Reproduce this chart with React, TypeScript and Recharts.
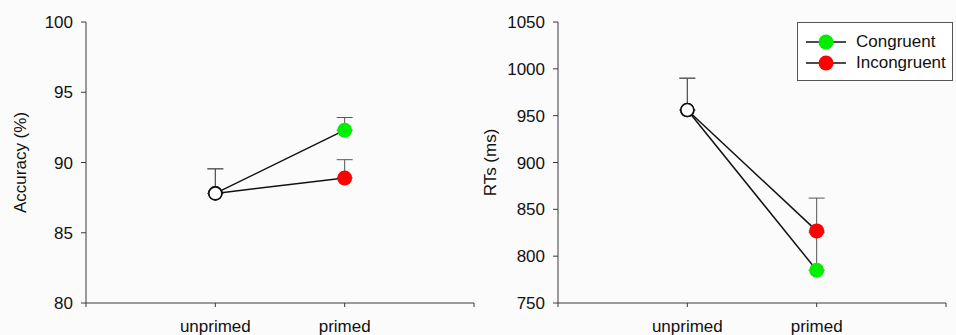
import React from 'react';
import { LineChart, Line, XAxis, YAxis, ErrorBar, Legend } from 'recharts';

// conditions on the x axis (placed at x = 1, 2 on a 0..3 axis)
const conditions = ['unprimed', 'primed'];
const seriesNames = ['Congruent', 'Incongruent'];
const seriesColors = ['#00ee00', '#ff0000'];

// accuracy (%)
const accCongruent = [87.8, 92.3];
const accIncongruent = [87.8, 88.9];
const accCongruentErr = [1.75, 0.9];
const accIncongruentErr = [1.75, 1.3];
const accTicks = [80, 85, 90, 95, 100];

// reaction times (ms)
const rtCongruent = [956, 785];
const rtIncongruent = [956, 827];
const rtCongruentErr = [34, 40];
const rtIncongruentErr = [34, 35];
const rtTicks = [750, 800, 850, 900, 950, 1000, 1050];

const FONT = '"Liberation Sans", Arial, sans-serif';
const AXIS = '#3a3a3a';

const buildRows = (cong: number[], incong: number[], congErr: number[], incongErr: number[]) =>
  conditions.map((c, i) => ({
    x: i + 1,
    name: c,
    cong: cong[i],
    incong: incong[i],
    congErr: [0, congErr[i]],
    incongErr: [0, incongErr[i]],
  }));

const accData = buildRows(accCongruent, accIncongruent, accCongruentErr, accIncongruentErr);
const rtData = buildRows(rtCongruent, rtIncongruent, rtCongruentErr, rtIncongruentErr);

const makeDot = (color: string) => (props: any) => {
  const { cx, cy, index } = props;
  if (cx == null || cy == null) return <g key={`d-${index}`} />;
  if (index === 0) {
    return <circle key={`d-${index}`} cx={cx} cy={cy} r={6.5} fill="#ffffff" stroke="#111" strokeWidth={1.6} />;
  }
  return <circle key={`d-${index}`} cx={cx} cy={cy} r={7.5} fill={color} stroke="none" />;
};

const xTickFormat = (v: number) => (v >= 1 && v <= conditions.length ? conditions[v - 1] : '');

const LegendBox = () => (
  <div
    style={{
      border: '1px solid #555',
      background: '#ffffff',
      padding: '8px 6px 7px 8px',
      fontFamily: FONT,
      fontSize: 17,
      color: '#111',
      width: 140,
    }}
  >
    {seriesNames.map((n, i) => (
      <div key={n} style={{ display: 'flex', alignItems: 'center', height: 21 }}>
        <svg width={40} height={20}>
          <line x1={0} y1={10} x2={40} y2={10} stroke="#111" strokeWidth={1.5} />
          <circle cx={20} cy={10} r={7.5} fill={seriesColors[i]} />
        </svg>
        <span style={{ marginLeft: 10, lineHeight: '21px' }}>{n}</span>
      </div>
    ))}
  </div>
);

interface PanelProps {
  data: any[];
  ticks: number[];
  domain: [number, number];
  label: string;
  yWidth: number;
  labelOffset: number;
  rightMargin: number;
  showLegend?: boolean;
}

const Panel: React.FC<PanelProps> = ({ data, ticks, domain, label, yWidth, labelOffset, rightMargin, showLegend }) => (
  <LineChart
    width={478}
    height={335}
    data={data}
    margin={{ top: 22, right: rightMargin, bottom: 0, left: 0 }}
  >
    <XAxis
      dataKey="x"
      type="number"
      domain={[0, 3]}
      ticks={[0, 1, 2, 3]}
      tickFormatter={xTickFormat}
      height={32}
      stroke={AXIS}
      tickSize={4}
      tickMargin={13}
      tick={{ fill: '#111', fontSize: 17, fontFamily: FONT }}
      interval={0}
    />
    <YAxis
      type="number"
      domain={domain}
      ticks={ticks}
      width={yWidth}
      stroke={AXIS}
      tickSize={5}
      tickMargin={8}
      interval={0}
      tick={{ fill: '#111', fontSize: 17, fontFamily: FONT }}
      label={{
        value: label,
        angle: -90,
        position: 'insideLeft',
        offset: labelOffset,
        fill: '#111',
        fontSize: 17,
        fontFamily: FONT,
        style: { textAnchor: 'middle' },
      }}
    />
    {showLegend && (
      <Legend
        layout="vertical"
        align="center"
        verticalAlign="middle"
        content={() => <LegendBox />}
        wrapperStyle={{ left: 319, top: 22, width: 'auto', height: 'auto' }}
      />
    )}
    <Line
      dataKey="cong"
      name={seriesNames[0]}
      stroke="#111"
      strokeWidth={1.5}
      dot={makeDot(seriesColors[0])}
      activeDot={false}
      isAnimationActive={false}
    >
      <ErrorBar dataKey="congErr" direction="y" width={8} stroke="#555" strokeWidth={1} />
    </Line>
    <Line
      dataKey="incong"
      name={seriesNames[1]}
      stroke="#111"
      strokeWidth={1.5}
      dot={makeDot(seriesColors[1])}
      activeDot={false}
      isAnimationActive={false}
    >
      <ErrorBar dataKey="incongErr" direction="y" width={8} stroke="#555" strokeWidth={1} />
    </Line>
  </LineChart>
);

export default function App() {
  return (
    <div
      style={{
        position: 'absolute',
        left: 0,
        top: 0,
        width: 956,
        height: 335,
        background: '#fbfbfb',
        overflow: 'hidden',
      }}
    >
      <div style={{ position: 'absolute', left: 0, top: 0 }}>
        <Panel
          data={accData}
          ticks={accTicks}
          domain={[80, 100]}
          label="Accuracy (%)"
          yWidth={86}
          labelOffset={20}
          rightMargin={4}
        />
      </div>
      <div style={{ position: 'absolute', left: 478, top: 0 }}>
        <Panel
          data={rtData}
          ticks={rtTicks}
          domain={[750, 1050]}
          label="RTs (ms)"
          yWidth={80}
          labelOffset={12}
          rightMargin={10}
          showLegend
        />
      </div>
    </div>
  );
}
